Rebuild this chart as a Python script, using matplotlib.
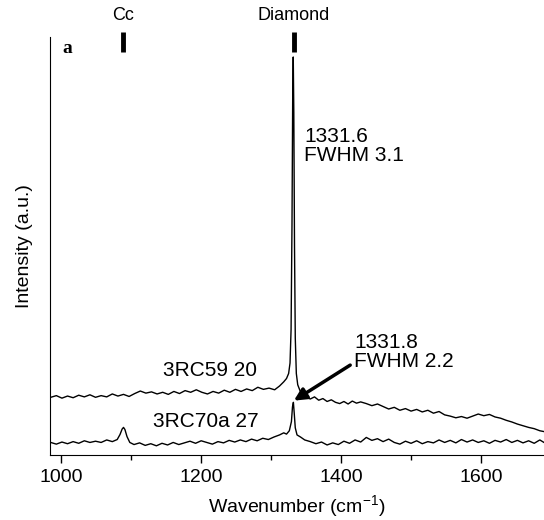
import numpy as np
import matplotlib
matplotlib.use("Agg")
import matplotlib.pyplot as plt

plt.rcParams['font.family'] = ['Liberation Sans', 'DejaVu Sans']
plt.rcParams['mathtext.default'] = 'regular'

# lower spectrum: 3RC70a 27
x_low = [985, 993, 1001, 1009, 1017, 1025, 1033, 1041, 1049, 1057, 1065, 1073,
         1080, 1084, 1087, 1089, 1091, 1094, 1098, 1104, 1112, 1120, 1128, 1136,
         1144, 1152, 1160, 1168, 1176, 1184, 1192, 1200, 1208, 1216, 1224, 1232,
         1240, 1248, 1256, 1264, 1272, 1280, 1288, 1296, 1304, 1312, 1318, 1322,
         1326, 1329, 1330.5, 1331.8, 1333, 1334.5, 1337, 1342, 1348, 1356, 1364,
         1372, 1380, 1388, 1396, 1404, 1412, 1420, 1428, 1436, 1444, 1452, 1460,
         1468, 1476, 1484, 1492, 1500, 1508, 1516, 1524, 1532, 1540, 1548, 1556,
         1564, 1572, 1580, 1588, 1596, 1604, 1612, 1620, 1628, 1636, 1644, 1652,
         1660, 1668, 1676, 1684, 1690]
y_low = [3.0, 2.6, 3.1, 2.7, 3.2, 2.8, 3.4, 3.0, 3.3, 3.0, 3.6, 3.2,
         3.7, 4.9, 6.2, 6.6, 6.1, 4.4, 3.0, 2.5, 2.9, 2.3, 2.7, 2.2,
         2.8, 2.4, 3.0, 2.5, 2.9, 3.3, 2.8, 3.4, 3.0, 2.6, 3.2, 2.9,
         3.5, 3.1, 3.6, 3.2, 3.8, 3.4, 4.0, 3.7, 4.3, 4.8, 5.3, 5.0,
         5.8, 8.0, 11.5, 12.6, 10.0, 6.5, 4.8, 4.3, 3.6, 3.2, 2.7,
         3.1, 2.4, 2.9, 2.5, 3.3, 2.8, 3.6, 3.1, 4.2, 3.5, 3.9, 3.2,
         3.8, 3.0, 2.6, 3.3, 2.8, 3.4, 2.7, 3.2, 2.9, 3.6, 3.0, 3.5,
         2.9, 3.7, 3.1, 3.6, 3.0, 3.4, 2.8, 3.5, 3.1, 3.7, 3.0, 3.5,
         2.9, 3.4, 2.8, 3.6, 3.0]

# upper spectrum: 3RC59 20
x_up = [985, 993, 1001, 1009, 1017, 1025, 1033, 1041, 1049, 1057, 1065, 1073,
        1081, 1089, 1097, 1105, 1113, 1121, 1129, 1137, 1145, 1153, 1161, 1169,
        1177, 1185, 1193, 1201, 1209, 1217, 1225, 1233, 1241, 1249, 1257, 1265,
        1273, 1281, 1289, 1297, 1305, 1312, 1318, 1322, 1325, 1327, 1328.5,
        1329.8, 1330.8, 1331.6, 1332.4, 1333.4, 1334.5, 1336, 1338, 1341, 1345,
        1350, 1356, 1362, 1368, 1374, 1380, 1386, 1392, 1398, 1404, 1410, 1416,
        1422, 1428, 1436, 1444, 1452, 1460, 1468, 1476, 1484, 1492, 1500, 1508,
        1516, 1524, 1532, 1540, 1548, 1556, 1564, 1572, 1580, 1588, 1596, 1604,
        1612, 1620, 1628, 1636, 1644, 1652, 1660, 1668, 1676, 1684, 1690]
y_up = [13.8, 14.2, 13.6, 14.1, 13.7, 14.3, 13.9, 14.4, 13.8, 14.2, 13.9, 14.6,
        14.1, 14.5, 14.0, 14.7, 15.3, 14.8, 15.1, 14.6, 15.0, 14.5, 15.2, 14.7,
        15.4, 15.0, 15.6, 15.0, 14.6, 15.2, 14.8, 15.5, 15.0, 15.7, 15.2, 15.8,
        15.4, 16.2, 15.7, 16.0, 15.6, 16.5, 17.5, 18.3, 19.5, 22.0, 30.0,
        55.0, 85.0, 95.2, 82.0, 50.0, 28.0, 19.5, 16.8, 15.5, 14.2,
        13.8, 13.4, 13.9, 13.1, 13.5, 12.8, 13.2, 12.6, 12.3, 12.8, 12.2, 12.9,
        12.4, 12.7, 12.3, 11.8, 12.2, 11.6, 11.0, 11.4, 10.7, 11.1, 10.5, 10.9,
        10.3, 10.7, 10.0, 10.4, 9.6, 9.3, 8.9, 9.2, 8.8, 9.3, 9.8, 9.4,
        9.7, 9.1, 8.8, 8.3, 7.9, 7.4, 7.0, 6.6, 6.3, 5.8, 5.6]

marker_pos = [1088, 1332]
marker_names = ['Cc', 'Diamond']

fig = plt.figure(figsize=(5.44, 5.2), dpi=100)
ax = fig.add_axes([0.092, 0.125, 0.908, 0.804])

ax.plot(x_up, y_up, color='black', lw=1.0)
ax.plot(x_low, y_low, color='black', lw=1.0)

ax.set_xlim(984, 1690)
ax.set_ylim(0, 100)

# band markers above the plot
for xp, name in zip(marker_pos, marker_names):
    ax.plot([xp, xp], [96.4, 101.2], color='black', lw=3.5, clip_on=False,
            solid_capstyle='butt')
    ax.text(xp, 103, name, ha='center', va='bottom', fontsize=13)

ax.text(1008, 97.3, 'a', fontsize=14, fontweight='bold',
        family=['Liberation Serif'], ha='center', va='center')

ax.text(1347, 73.8, '1331.6\nFWHM 3.1', fontsize=15, va='center', ha='left',
        linespacing=1.0)
ax.text(1419, 24.6, '1331.8\nFWHM 2.2', fontsize=15, va='center', ha='left',
        linespacing=1.0)
ax.text(1213, 20.3, '3RC59 20', fontsize=15, va='center', ha='center')
ax.text(1207, 7.9, '3RC70a 27', fontsize=15, va='center', ha='center')

ax.annotate('', xy=(1332.5, 13.0), xytext=(1413, 21.5),
            arrowprops=dict(arrowstyle='-|>', lw=2.5, color='black',
                            mutation_scale=18, shrinkA=0, shrinkB=0))

ax.spines['top'].set_visible(False)
ax.spines['right'].set_visible(False)
ax.set_yticks([])
ax.set_xticks([1000, 1200, 1400, 1600])
ax.set_xticks([1100, 1300, 1500], minor=True)
ax.tick_params(axis='x', which='major', direction='out', length=6, width=1,
               labelsize=14, pad=4)
ax.tick_params(axis='x', which='minor', direction='out', length=3.5, width=1)

ax.set_xlabel('Wavenumber (cm$^{-1}$)', fontsize=14, labelpad=5)
ax.set_ylabel('Intensity (a.u.)', fontsize=14, labelpad=12)

fig.savefig('out.png', dpi=100)
